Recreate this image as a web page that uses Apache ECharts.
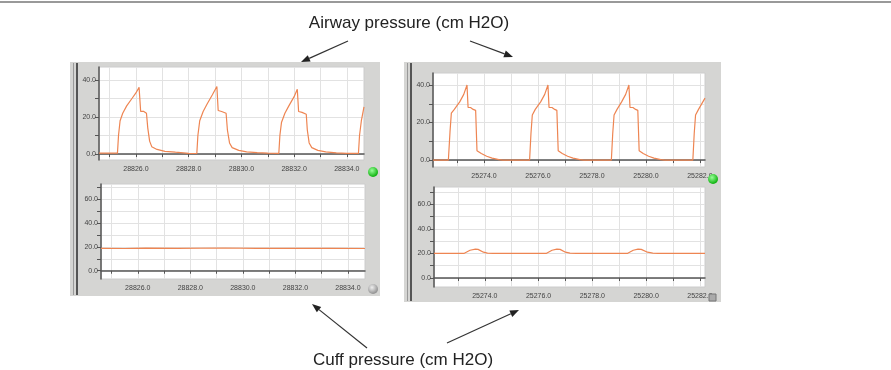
<!DOCTYPE html>
<html>
<head>
<meta charset="utf-8">
<script src="https://cdn.jsdelivr.net/npm/echarts@6/dist/echarts.min.js"></script>
<style>
  body { margin: 0; background: #fff; }
  #chart { width: 891px; height: 370px; }
</style>
</head>
<body>
<div id="chart"></div>
<script>
// left recording: airway pressure (time s, cm H2O)
const leftAirway = [
  [28824.6, 0.5], [28825.0, 0.5], [28825.3, 0.5],
  [28825.34, 10], [28825.4, 18], [28825.5, 22], [28825.65, 26], [28825.85, 30], [28826.0, 33], [28826.12, 36],
  [28826.18, 23], [28826.3, 23], [28826.4, 22], [28826.45, 14], [28826.52, 7], [28826.6, 4], [28826.8, 2.5],
  [28827.1, 1.5], [28827.5, 1], [28828.0, 0.4], [28828.31, 0.3],
  [28828.35, 10], [28828.42, 18], [28828.55, 23], [28828.7, 27], [28828.9, 32], [28829.07, 36.5],
  [28829.12, 23.5], [28829.25, 23], [28829.42, 22], [28829.47, 13], [28829.55, 6], [28829.65, 3.5], [28829.9, 2],
  [28830.2, 1.2], [28830.6, 0.8], [28831.0, 0.5], [28831.42, 0.4],
  [28831.46, 10], [28831.52, 17], [28831.65, 22], [28831.8, 26], [28832.0, 31], [28832.12, 35],
  [28832.17, 23], [28832.3, 22.5], [28832.46, 21.5], [28832.5, 13], [28832.57, 6], [28832.67, 3.5], [28832.9, 2],
  [28833.2, 1.2], [28833.6, 0.6], [28834.0, 0.4], [28834.44, 0.4],
  [28834.48, 10], [28834.55, 18], [28834.65, 25.5]
]
// left recording: cuff pressure
const leftCuff = [
  [28824.6, 18.7], [28825.5, 18.6], [28826.3, 18.9], [28827.5, 18.7], [28829.3, 19.0],
  [28830.5, 18.7], [28832.0, 18.8], [28833.3, 18.7], [28834.65, 18.6]
]
// right recording: airway pressure
const rightAirway = [
  [25272.11, 0], [25272.68, 0], [25272.74, 15], [25272.79, 25], [25272.9, 27], [25273.1, 31], [25273.25, 35], [25273.37, 40],
  [25273.41, 28], [25273.45, 27], [25273.5, 28], [25273.6, 27], [25273.69, 26.5], [25273.74, 5], [25273.9, 3.5],
  [25274.1, 2], [25274.3, 1], [25274.55, 0.2], [25274.7, 0], [25275.69, 0],
  [25275.74, 14], [25275.79, 24], [25275.9, 27], [25276.1, 31], [25276.25, 35], [25276.37, 40],
  [25276.41, 28], [25276.46, 27.5], [25276.52, 28], [25276.62, 27], [25276.7, 26.5], [25276.75, 5], [25276.9, 3.5],
  [25277.1, 2], [25277.3, 1], [25277.55, 0.2], [25277.7, 0], [25278.72, 0],
  [25278.77, 14], [25278.82, 24], [25278.93, 27], [25279.1, 31], [25279.25, 35], [25279.37, 40],
  [25279.41, 28], [25279.46, 27], [25279.52, 28], [25279.62, 27], [25279.7, 26.5], [25279.75, 5], [25279.9, 3.5],
  [25280.1, 2], [25280.3, 1], [25280.55, 0.2], [25280.7, 0], [25281.74, 0],
  [25281.79, 14], [25281.84, 24], [25281.95, 27], [25282.19, 33]
]
// right recording: cuff pressure
const rightCuff = [
  [25272.11, 20], [25273.22, 20], [25273.25, 21], [25273.45, 22.6], [25273.65, 23.5], [25273.75, 23.3], [25273.95, 21], [25274.1, 20.3], [25274.3, 20],
  [25276.28, 20], [25276.31, 21], [25276.5, 22.6], [25276.68, 23.5], [25276.8, 23.3], [25277.0, 21], [25277.17, 20.3], [25277.4, 20],
  [25279.3, 20], [25279.33, 21], [25279.52, 22.6], [25279.7, 23.5], [25279.82, 23.3], [25280.05, 21], [25280.25, 20.3], [25280.45, 20],
  [25282.19, 20]
]

// axis ticks and labels
const leftTimeTicks = [28825, 28826, 28827, 28828, 28829, 28830, 28831, 28832, 28833, 28834]
const leftTimeLabels = [28826, 28828, 28830, 28832, 28834]
const rightTimeTicks = [25273, 25274, 25275, 25276, 25277, 25278, 25279, 25280, 25281, 25282]
const rightTimeLabels = [25274, 25276, 25278, 25280, 25282]
const airwayTicks = [0, 10, 20, 30, 40]
const airwayLabels = [0, 20, 40]
const cuffTicks = [0, 10, 20, 30, 40, 50, 60, 70]
const cuffLabels = [0, 20, 40, 60]

const chart = echarts.init(document.getElementById('chart'))

const LINE = '#ee8552'
const GRID = '#e2e2e2'
const PANEL = '#d5d5d3'
const font = 'Liberation Sans, Arial, sans-serif'

const makeX = (gi, min, max, ticks, labels) => ({
  gridIndex: gi, type: 'value', min, max,
  axisLine: { show: true, lineStyle: { color: '#555', width: 1.5 } },
  axisTick: { show: true, length: 3, customValues: ticks, lineStyle: { color: '#555' } },
  axisLabel: { customValues: labels, formatter: v => v.toFixed(1), fontSize: 7, color: '#444', margin: 6, fontFamily: font },
  splitLine: { show: true, lineStyle: { color: GRID } }
})
const makeY = (gi, min, max, ticks, labels) => ({
  gridIndex: gi, type: 'value', min, max,
  axisLine: { show: true, lineStyle: { color: '#555', width: 1.5 } },
  axisTick: { show: true, length: 4, customValues: ticks, lineStyle: { color: '#555' } },
  axisLabel: { customValues: labels, formatter: v => v.toFixed(1), fontSize: 7, color: '#444', margin: 3, fontFamily: font },
  splitLine: { show: true, lineStyle: { color: GRID } }
})
const makeSeries = (i, data) => ({
  type: 'line', xAxisIndex: i, yAxisIndex: i, data,
  showSymbol: false, silent: true,
  lineStyle: { color: LINE, width: 1.2 }
})

// arrow = line + filled head
const arrow = (x1, y1, x2, y2) => {
  const a = Math.atan2(y2 - y1, x2 - x1)
  const L = 9, W = 3.5
  const bx = x2 - L * Math.cos(a), by = y2 - L * Math.sin(a)
  return [
    { type: 'line', silent: true, z: 20, shape: { x1, y1, x2: bx, y2: by }, style: { stroke: '#333', lineWidth: 1.2 } },
    { type: 'polygon', silent: true, z: 20, shape: { points: [
      [x2, y2],
      [bx + W * Math.sin(a), by - W * Math.cos(a)],
      [bx - W * Math.sin(a), by + W * Math.cos(a)]
    ] }, style: { fill: '#222' } }
  ]
}
const ball = (cx, cy, c1, c2) => ({
  type: 'circle', silent: true, z: 20, shape: { cx, cy, r: 5 },
  style: { fill: { type: 'radial', x: 0.4, y: 0.35, r: 0.7, colorStops: [{ offset: 0, color: c1 }, { offset: 1, color: c2 }] } }
})

const option = {
  animation: false,
  grid: [
    { left: 99, top: 67, width: 265, height: 93, show: true, backgroundColor: '#fff', borderColor: '#ccc', borderWidth: 1 },
    { left: 101, top: 184, width: 264, height: 95, show: true, backgroundColor: '#fff', borderColor: '#ccc', borderWidth: 1 },
    { left: 433, top: 73, width: 272, height: 94, show: true, backgroundColor: '#fff', borderColor: '#ccc', borderWidth: 1 },
    { left: 434, top: 187, width: 271, height: 100, show: true, backgroundColor: '#fff', borderColor: '#ccc', borderWidth: 1 }
  ],
  xAxis: [
    makeX(0, 28824.6, 28834.65, leftTimeTicks, leftTimeLabels),
    makeX(1, 28824.6, 28834.65, leftTimeTicks, leftTimeLabels),
    makeX(2, 25272.11, 25282.19, rightTimeTicks, rightTimeLabels),
    makeX(3, 25272.11, 25282.19, rightTimeTicks, rightTimeLabels)
  ],
  yAxis: [
    makeY(0, -3.2, 47, airwayTicks, airwayLabels),
    makeY(1, -6.9, 72.5, cuffTicks, cuffLabels),
    makeY(2, -3.7, 46.4, airwayTicks, airwayLabels),
    makeY(3, -7.3, 74, cuffTicks, cuffLabels)
  ],
  series: [
    makeSeries(0, leftAirway),
    makeSeries(1, leftCuff),
    makeSeries(2, rightAirway),
    makeSeries(3, rightCuff)
  ],
  graphic: [
    { type: 'line', silent: true, z: -10, shape: { x1: 0, y1: 2, x2: 891, y2: 2 }, style: { stroke: '#777', lineWidth: 1.5 } },
    // monitor panels
    { type: 'rect', silent: true, z: -10, shape: { x: 70, y: 62, width: 310, height: 234 }, style: { fill: PANEL } },
    { type: 'rect', silent: true, z: -10, shape: { x: 404, y: 62, width: 317, height: 240 }, style: { fill: PANEL } },
    { type: 'line', silent: true, z: -9, shape: { x1: 73.5, y1: 63, x2: 73.5, y2: 295 }, style: { stroke: '#999', lineWidth: 1 } },
    { type: 'line', silent: true, z: -9, shape: { x1: 77, y1: 63, x2: 77, y2: 295 }, style: { stroke: '#555', lineWidth: 2 } },
    { type: 'line', silent: true, z: -9, shape: { x1: 407.5, y1: 63, x2: 407.5, y2: 301 }, style: { stroke: '#999', lineWidth: 1 } },
    { type: 'line', silent: true, z: -9, shape: { x1: 411, y1: 63, x2: 411, y2: 301 }, style: { stroke: '#555', lineWidth: 2 } },
    ball(373, 172, '#9f9', '#0a0'),
    ball(373, 289, '#eee', '#888'),
    ball(713, 179, '#9f9', '#0a0'),
    { type: 'rect', silent: true, z: 20, shape: { x: 709, y: 294, width: 7, height: 7 }, style: { fill: '#aaa', stroke: '#777' } },
    // captions
    { type: 'text', silent: true, z: 20, x: 409, y: 23, style: { text: 'Airway pressure (cm H2O)', font: '17px ' + font, fill: '#222', align: 'center', verticalAlign: 'middle' } },
    { type: 'text', silent: true, z: 20, x: 403, y: 360, style: { text: 'Cuff pressure (cm H2O)', font: '17px ' + font, fill: '#222', align: 'center', verticalAlign: 'middle' } },
    ...arrow(348, 41, 301, 62),
    ...arrow(470, 41, 513, 57),
    ...arrow(367, 348, 312, 304),
    ...arrow(447, 343, 519, 310)
  ]
}

chart.setOption(option)
</script>
</body>
</html>
